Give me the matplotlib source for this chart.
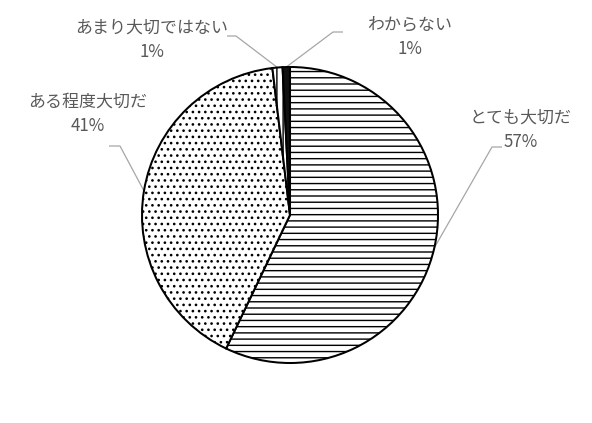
import matplotlib
matplotlib.use("Agg")
import matplotlib.pyplot as plt
import numpy as np

plt.rcParams['font.family'] = ['Noto Sans CJK JP', 'DejaVu Sans']
plt.rcParams['hatch.linewidth'] = 0.9

categories = ["とても大切だ", "ある程度大切だ", "あまり大切ではない", "わからない"]
values = [57.1, 41.0, 1.1, 0.8]
hatches = ["---", "...", "|||", ""]
faces = ["white", "white", "white", "#111111"]

# label layout (pixel coords from top-left): text centre, elbow, end of leader
label_pos = [(521, 118), (88, 102), (152, 28), (410, 25)]
elbows = [((492, 147), (502, 147)),
          ((120, 146), (109, 146)),
          ((236, 36), (227, 36)),
          ((333, 32), (343, 32))]

W, H, DPI = 592, 423, 112
fig = plt.figure(figsize=(W / DPI, H / DPI), dpi=DPI)
ax = fig.add_axes([0, 0, 1, 1])

cx, cy, R = 290, 215, 148
def Y(y):
    return H - y

wedges, _ = ax.pie(values, startangle=90, counterclock=False, radius=R,
                   center=(cx, Y(cy)), colors=faces,
                   wedgeprops=dict(edgecolor="black", linewidth=1.3))
for w, h in zip(wedges, hatches):
    w.set_hatch(h)

ax.set_xlim(0, W)
ax.set_ylim(0, H)
ax.set_aspect('equal')
ax.axis('off')

tcolor = "#595959"
for w, cat, v, (tx, ty), (e1, e2) in zip(wedges, categories, values, label_pos, elbows):
    mid = np.deg2rad((w.theta1 + w.theta2) / 2)
    px = cx + R * np.cos(mid)
    py = Y(cy) + R * np.sin(mid)
    ax.plot([px, e1[0], e2[0]], [py, Y(e1[1]), Y(e2[1])], color="#a6a6a6",
            lw=0.8, solid_capstyle='butt', zorder=0.5)
    ax.text(tx, Y(ty), cat, ha='center', va='center', fontsize=10.9, color=tcolor)
    ax.text(tx, Y(ty + 24), f"{round(v):d}%", ha='center', va='center',
            fontsize=10.9, color=tcolor)

fig.savefig("out.png", dpi=DPI, facecolor="white")
